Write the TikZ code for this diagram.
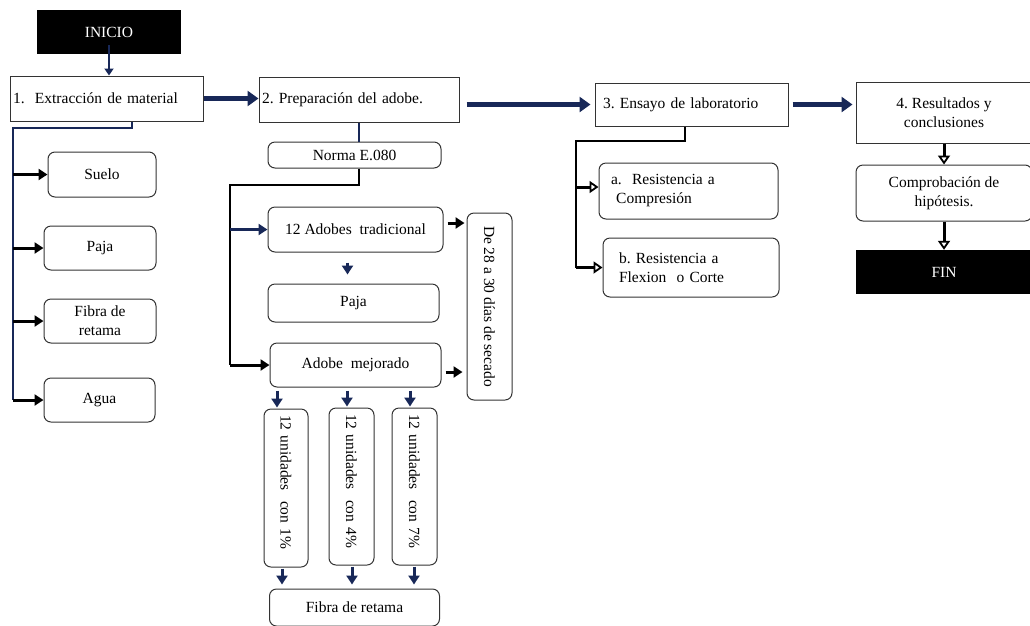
\documentclass[tikz,border=0pt]{standalone}
\usepackage{fontspec}
\setmainfont{Liberation Serif}
\usetikzlibrary{arrows.meta}
\definecolor{flownavy}{RGB}{24,40,88}
\frenchspacing

\begin{document}
\begin{tikzpicture}[x=1pt, y=-1pt,
    every node/.style={font=\fontsize{15.5}{19}\selectfont, inner sep=3pt},
    sqbox/.style={draw=black!80, line width=1pt},
    rbox/.style={draw=black!80, line width=1pt, rounded corners=7pt},
    darkbox/.style={fill=black, text=white},
    bigarrow/.style={flownavy, line width=4.5pt, -{Triangle[length=11pt, width=15pt]}},
    smallarrow/.style={black, line width=3pt, -{Triangle[length=9pt, width=11pt]}},
    hollowarrow/.style={black, line width=3pt, -{Triangle[open, length=9pt, width=12pt, line width=1.8pt]}},
    link/.style={flownavy, line width=2.2pt}]
    \useasboundingbox (0,0) rectangle (1030,625);

    \node[darkbox, minimum width=144pt, minimum height=44pt] (inicio) at (109,32) {INICIO};
    \node[sqbox, minimum height=45pt, text width=187pt, align=left] (extraccion) at (106.5,98.5) {1.\ \ Extracción de material};
    \node[sqbox, minimum height=45pt, text width=194pt, align=left] (preparacion) at (359,99.5) {2. Preparación del adobe.};
    \node[sqbox, minimum height=43pt, text width=177pt, inner xsep=8pt, align=left] (ensayo) at (691.5,104.5) {3. Ensayo de laboratorio};
    \node[sqbox, minimum width=176pt, minimum height=61pt, align=center] (resultados) at (944,112.5) {4. Resultados y\\conclusiones};

    \node[rbox, minimum width=108pt, minimum height=45pt] (suelo) at (102,174.5) {Suelo};
    \node[rbox, minimum width=112pt, minimum height=44pt] (paja) at (100,248) {Paja};
    \node[rbox, minimum width=112pt, minimum height=44pt, align=center] (fibra) at (100,321) {Fibra de\\retama};
    \node[rbox, minimum width=111pt, minimum height=44pt] (agua) at (99.5,400) {Agua};

    \node[rbox, minimum width=173pt, minimum height=26pt] (norma) at (354.5,155) {Norma E.080};
    \node[rbox, minimum width=175pt, minimum height=45pt] (tradicional) at (355.5,229.5) {12 Adobes\ \ tradicional};
    \node[rbox, minimum width=171pt, minimum height=38pt] (pajab) at (353.5,303) {Paja};
    \node[rbox, minimum width=171pt, minimum height=44pt] (mejorado) at (355.5,365) {Adobe\ \ mejorado};
    \node[rbox, rotate=-90, minimum width=187pt, minimum height=45pt] (secado) at (489.5,306.5) {De 28 a 30 días de secado};
    \node[rbox, rotate=-90, text width=146pt, inner xsep=6pt, align=left, minimum height=44pt] (unidad1) at (286,488) {12 unidades\ \ con 1\%};
    \node[rbox, rotate=-90, text width=145pt, inner xsep=6pt, align=left, minimum height=45pt] (unidad4) at (351.5,486.5) {12 unidades\ \ con 4\%};
    \node[rbox, rotate=-90, text width=145pt, inner xsep=6pt, align=left, minimum height=45pt] (unidad7) at (414.5,486.5) {12 unidades\ \ con 7\%};
    \node[rbox, minimum width=170pt, minimum height=37pt] (retama) at (354.5,607.5) {Fibra de retama};

    \node[rbox, minimum height=56pt, text width=155pt, inner xsep=12pt, align=left] (compresion) at (688.5,191) {a.\ \ Resistencia a\\\ Compresión};
    \node[rbox, minimum height=59pt, text width=144pt, inner xsep=16pt, align=left] (flexion) at (691,267.5) {b. Resistencia a\\Flexion\ \ o Corte};

    \node[rbox, minimum width=176pt, minimum height=56pt, align=center] (comprobacion) at (944,193) {Comprobación de\\hipótesis.};
    \node[darkbox, minimum width=176pt, minimum height=44pt] (fin) at (944,272) {FIN};

    \draw[link, -{Triangle[length=7pt, width=9pt]}] ([yshift=9pt]inicio.south) -- (inicio.south |- extraccion.north);
    \draw[bigarrow] (extraccion.east) -- (extraccion.east -| preparacion.west);
    \draw[bigarrow, shorten <=7pt, shorten >=4pt] (ensayo.west -| preparacion.east) -- (ensayo.west);
    \draw[bigarrow, shorten <=4pt, shorten >=3pt] (ensayo.east) -- (ensayo.east -| resultados.west);

    \coordinate (ramaA) at (13,128);
    \draw[link] ([xshift=25.5pt]extraccion.south) |- (ramaA) -- (ramaA |- agua.west);
    \draw[smallarrow] (ramaA |- suelo.west) -- (suelo.west);
    \draw[smallarrow] (ramaA |- paja.west) -- (paja.west);
    \draw[smallarrow] (ramaA |- fibra.west) -- (fibra.west);
    \draw[smallarrow] (ramaA |- agua.west) -- (agua.west);

    \draw[link] (preparacion.south) -- (preparacion.south |- norma.north);
    \coordinate (ramaB) at (230,185);
    \draw[link, black] (preparacion.south |- norma.south) |- (ramaB) -- (ramaB |- mejorado.west);
    \draw[smallarrow, flownavy] (ramaB |- tradicional.west) -- (tradicional.west);
    \draw[smallarrow] (ramaB |- mejorado.west) -- (mejorado.west);
    \draw[smallarrow, flownavy, shorten <=10pt, shorten >=9pt] ([xshift=-8pt]tradicional.south) -- ([xshift=-8pt]tradicional.south |- pajab.north);
    \draw[smallarrow, shorten <=4pt, shorten >=2pt] ([yshift=6.5pt]tradicional.east) -- ([yshift=6.5pt]tradicional.east -| secado.south);
    \draw[smallarrow, shorten <=4pt, shorten >=4pt] ([yshift=-7pt]mejorado.east) -- ([yshift=-7pt]mejorado.east -| secado.south);

    \draw[smallarrow, flownavy, shorten <=3pt, shorten >=1pt] ([xshift=-9pt]unidad1.west |- mejorado.south) -- ([xshift=-9pt]unidad1.west);
    \draw[smallarrow, flownavy, shorten <=3pt, shorten >=1pt] ([xshift=-4.5pt]unidad4.west |- mejorado.south) -- ([xshift=-4.5pt]unidad4.west);
    \draw[smallarrow, flownavy, shorten <=3pt, shorten >=1pt] ([xshift=-4.5pt]unidad7.west |- mejorado.south) -- ([xshift=-4.5pt]unidad7.west);
    \draw[smallarrow, flownavy, shorten <=1pt, shorten >=4pt] ([xshift=-4pt]unidad1.east) -- ([xshift=-4pt]unidad1.east |- retama.north);
    \draw[smallarrow, flownavy, shorten <=1pt, shorten >=4pt] ([xshift=0.5pt]unidad4.east) -- ([xshift=0.5pt]unidad4.east |- retama.north);
    \draw[smallarrow, flownavy, shorten <=1pt, shorten >=4pt] ([xshift=-0.5pt]unidad7.east) -- ([xshift=-0.5pt]unidad7.east |- retama.north);

    \coordinate (ramaC) at (576,141);
    \draw[link, black] ([xshift=-6.5pt]ensayo.south) |- (ramaC) -- (ramaC |- flexion.west);
    \draw[hollowarrow] ([yshift=4pt]ramaC |- compresion.west) -- ([yshift=4pt]compresion.west);
    \draw[hollowarrow] (ramaC |- flexion.west) -- (flexion.west);

    \draw[hollowarrow] (resultados.south) -- (comprobacion.north);
    \draw[hollowarrow] (comprobacion.south) -- (fin.north);
\end{tikzpicture}
\end{document}
